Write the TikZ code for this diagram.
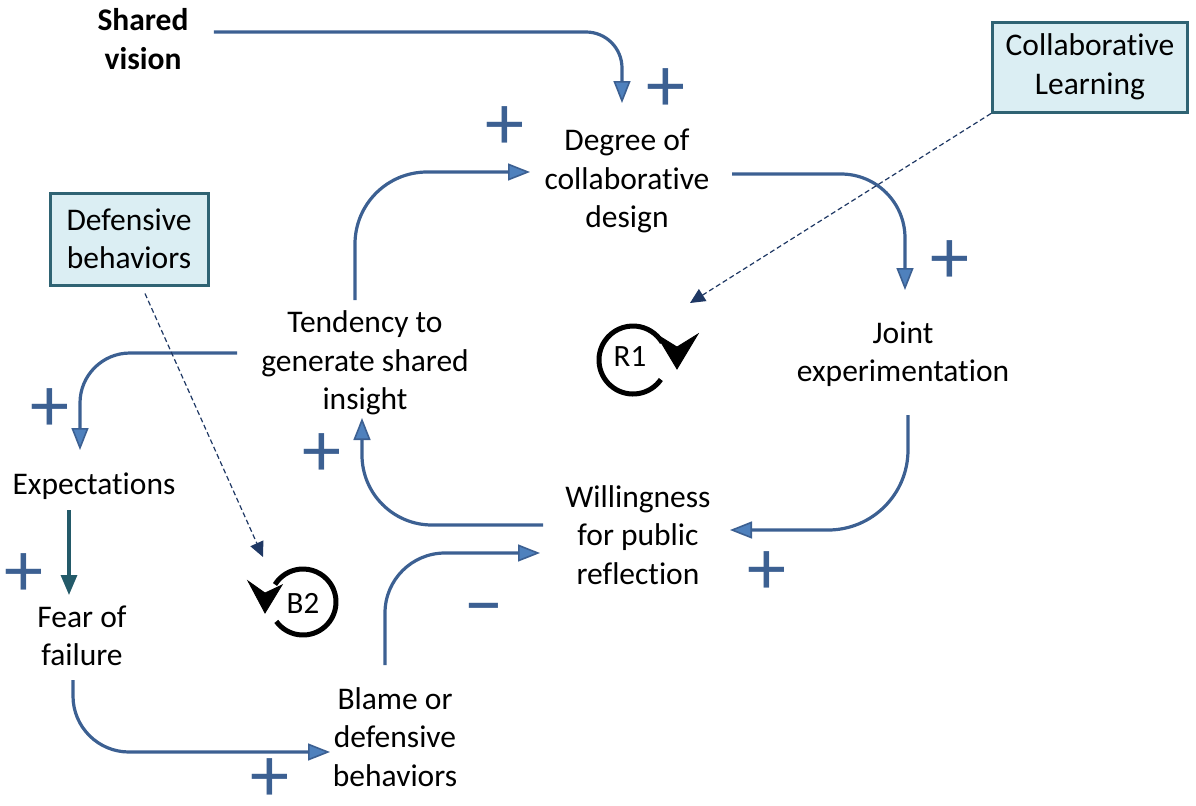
\documentclass[tikz,border=0pt]{standalone}
\usepackage{fontspec}
\setmainfont{Carlito}[Ligatures=NoCommon]
\usetikzlibrary{arrows.meta,calc}

\definecolor{linkblue}{RGB}{60,96,146}
\definecolor{tipfill}{RGB}{79,129,189}
\definecolor{boxfill}{RGB}{219,238,243}
\definecolor{boxedge}{RGB}{47,99,115}
\definecolor{teallink}{RGB}{35,90,105}
\definecolor{dashnavy}{RGB}{31,56,100}

\tikzset{
  var/.style={align=center, inner sep=0pt, font=\fontsize{15.75}{19.25}\selectfont},
  sourcebox/.style={var, draw=boxedge, fill=boxfill, line width=1.5pt},
  link/.style={draw=linkblue, line width=1.6pt,
    -{Triangle[length=11pt,width=8.5pt,line width=0.8pt,fill=tipfill]}},
  straightlink/.style={draw=teallink, line width=1.6pt,
    -{Triangle[length=10pt,width=8pt,fill=teallink]}},
  dashlink/.style={draw=dashnavy, line width=0.6pt, dash pattern=on 2.5pt off 1.5pt,
    -{Triangle[length=7.5pt,width=7pt,fill=dashnavy]}},
  sign/.style={text=linkblue, inner sep=0pt, font=\fontsize{39}{39}\selectfont},
  loopmark/.style={draw=black, line width=2.5pt},
  loophead/.style={fill=black, draw=black, line width=0.4pt, line join=miter},
  looplabel/.style={inner sep=0pt, font=\fontsize{15.5}{18}\selectfont}
}

\begin{document}
\begin{tikzpicture}[x=0.5pt,y=-0.5pt]
\path[use as bounding box] (0,0) rectangle (1196,805);

% variables
\node[var, font=\fontsize{15.75}{19.25}\selectfont\bfseries] (sv) at (143,39) {Shared\\vision};
\node[var] (dcd) at (627,181) {Degree of\\collaborative\\design};
\node[var] (je) at (903,354) {Joint\\experimentation};
\node[var] (tend) at (365,363) {Tendency to\\generate shared\\insight};
\node[var] (exp) at (94,486) {Expectations};
\node[var] (fear) at (82,636) {Fear of\\failure};
\node[var] (wil) at (638,535) {Willingness\\for public\\reflection};
\node[var] (blame) at (395,737) {Blame or\\defensive\\behaviors};

% source boxes
\node[sourcebox, minimum width=97.5pt, minimum height=45pt] (cl) at (1090,67) {Collaborative\\Learning};
\node[sourcebox, minimum width=79pt, minimum height=46pt] (db) at (129,239) {Defensive\\behaviors};

% loop markers: open circle plus a chevron head
\coordinate (r1c) at (633,360);
\coordinate (r1tip) at (677,369);
\draw[loopmark] (r1c) ++(35:34) arc[start angle=35, end angle=329, radius=34];
\path[loophead] (r1tip) -- ++(-21,-35) -- ++(21,13) -- ++(21,-13) -- cycle;
\node[looplabel] (r1) at (630,357) {R1};

\coordinate (b2c) at (303,602);
\coordinate (b2tip) at (265,613);
\draw[loopmark] (b2c) ++(144:33) arc[start angle=144, end angle=-148, radius=33];
\path[loophead] (b2tip) -- ++(-17,-32) -- ++(17,12) -- ++(17,-8) -- cycle;
\node[looplabel] (b2) at (303,603) {B2};

% causal links
\draw[link, rounded corners=18pt] ($(sv.east)+(25,-7)$) -| ($(dcd)+(-5,-78)$);
\draw[link, rounded corners=36pt] ($(tend)+(-10,-63)$) |- ($(dcd)+(-97,-9)$);
\draw[link, rounded corners=32pt] ($(dcd)+(105,-7)$) -| ($(je)+(2,-64)$);
\draw[link, rounded corners=40pt] ($(je)+(5,61)$) |- ($(wil)+(92,-5)$);
\draw[link, rounded corners=35pt] ($(wil)+(-95,-10)$) -| ($(tend)+(-3,55)$);
\draw[link, rounded corners=25pt] ($(tend)+(-128,-10)$) -| ($(exp)+(-14,-36)$);
\draw[straightlink] ($(exp)+(-25,24)$) -- ($(fear)+(-13,-41)$);
\draw[link, rounded corners=28pt] ($(fear)+(-9,44)$) |- ($(blame)+(-65,15)$);
\draw[link, rounded corners=30pt] ($(blame)+(-10,-72)$) |- ($(wil)+(-98,18)$);

% exogenous influences
\draw[dashlink] (cl.south west) -- ($(r1c)+(57,-57)$);
\draw[dashlink] ($(db.south)+(16,7)$) -- ($(b2c)+(-40,-45)$);

% polarities
\node[sign] (s1) at (666,90) {+};
\node[sign] (s2) at (505,128) {+};
\node[sign] (s3) at (950,262) {+};
\node[sign] (s4) at (767,573) {+};
\node[sign] (s5) at (322,455) {+};
\node[sign] (s6) at (50,410) {+};
\node[sign] (s7) at (24,575) {+};
\node[sign] (s8) at (270,780) {+};
\node[sign] (s9) at (484,617) {−};
\end{tikzpicture}
\end{document}
